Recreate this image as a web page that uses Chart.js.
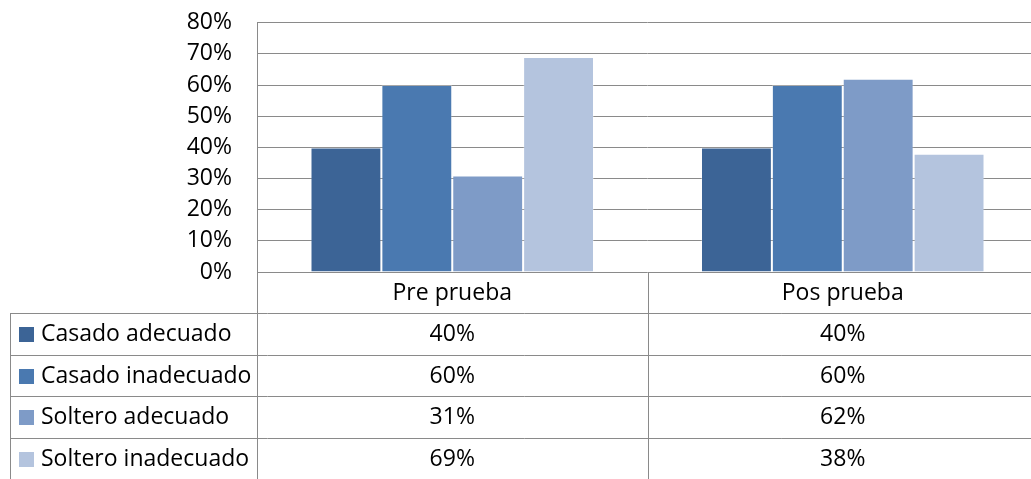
<!DOCTYPE html>
<html>
<head>
<meta charset="utf-8">
<script src="https://cdn.jsdelivr.net/npm/chart.js@4.4.1/dist/chart.umd.min.js"></script>
<style>
html,body{margin:0;padding:0;background:#fff;overflow:hidden;width:1031px;height:479px;position:relative;}
#wrap{position:absolute;left:0;top:-16px;width:1038px;height:495px;}
</style>
</head>
<body>
<div id="wrap"><canvas id="c" width="1038" height="495"></canvas></div>
<script>
const categories = ["Pre prueba", "Pos prueba"];
const seriesNames = ["Casado adecuado", "Casado inadecuado", "Soltero adecuado", "Soltero inadecuado"];
const casadoAdecuado = [40, 40];
const casadoInadecuado = [60, 60];
const solteroAdecuado = [31, 62];
const solteroInadecuado = [69, 38];
const seriesColors = ["#3C6496", "#4A79B0", "#7E9BC7", "#B4C4DE"];
const yTicks = [0, 10, 20, 30, 40, 50, 60, 70, 80];

const seriesValues = [casadoAdecuado, casadoInadecuado, solteroAdecuado, solteroInadecuado];
const FONT = "'Open Sans'";
const FS = 23;
const GRID = "#8a8a8a";

const tablePlugin = {
  id: "dataTable",
  afterDraw(chart) {
    const ctx = chart.ctx;
    const area = chart.chartArea;
    const xs = chart.scales.x;
    const rowH = 41.5;
    const top = area.bottom;
    const headerBottom = top + 41;
    const tableLeft = 10.5;
    const right = chart.width;
    ctx.save();
    ctx.strokeStyle = GRID;
    ctx.lineWidth = 1;
    ctx.beginPath();
    ctx.moveTo(area.left + 0.5, area.top);
    ctx.lineTo(area.left + 0.5, chart.height);
    ctx.stroke();
    const sep = (xs.getPixelForValue(0) + xs.getPixelForValue(1)) / 2;
    ctx.beginPath();
    ctx.moveTo(Math.round(sep) + 0.5, top);
    ctx.lineTo(Math.round(sep) + 0.5, chart.height);
    ctx.stroke();
    ctx.beginPath();
    ctx.moveTo(tableLeft, headerBottom);
    ctx.lineTo(tableLeft, chart.height);
    ctx.stroke();
    for (let i = 0; i < seriesNames.length; i++) {
      const y = Math.round(headerBottom + i * rowH) + 0.5;
      ctx.beginPath();
      ctx.moveTo(tableLeft, y);
      ctx.lineTo(right, y);
      ctx.stroke();
    }
    ctx.fillStyle = "#000";
    ctx.font = FS + "px " + FONT;
    ctx.textBaseline = "middle";
    ctx.textAlign = "center";
    categories.forEach((c, i) => {
      ctx.fillText(c, xs.getPixelForValue(i), (top + headerBottom) / 2 + 1);
    });
    seriesNames.forEach((name, r) => {
      const yc = headerBottom + r * rowH + rowH / 2 + 1;
      ctx.fillStyle = seriesColors[r];
      ctx.fillRect(19, Math.round(yc - 7.5), 15, 15);
      ctx.fillStyle = "#000";
      ctx.textAlign = "left";
      ctx.fillText(name, 41, yc);
      ctx.textAlign = "center";
      seriesValues[r].forEach((v, i) => {
        ctx.fillText(v + "%", xs.getPixelForValue(i), yc);
      });
    });
    ctx.restore();
  }
};

new Chart(document.getElementById("c"), {
  type: "bar",
  data: {
    labels: categories,
    datasets: seriesNames.map((n, i) => ({
      label: n,
      data: seriesValues[i],
      backgroundColor: seriesColors[i],
      borderColor: "rgba(255,255,255,0.25)",
      borderWidth: 1,
      barPercentage: 1.0,
      categoryPercentage: 0.726
    }))
  },
  options: {
    responsive: false,
    animation: false,
    layout: { padding: { top: 5, bottom: 207, left: 0, right: 0 } },
    plugins: { legend: { display: false }, tooltip: { enabled: false } },
    scales: {
      x: { display: false },
      y: {
        min: 0, max: 80,
        afterBuildTicks: (s) => { s.ticks = yTicks.map(v => ({ value: v })); },
        afterFit: (s) => { s.width = 257; },
        grid: { color: GRID, lineWidth: 1, drawTicks: false },
        border: { display: false },
        ticks: {
          padding: 25,
          color: "#000",
          font: { family: "Open Sans", size: FS },
          callback: (v) => v + "%"
        }
      }
    }
  },
  plugins: [tablePlugin]
});
</script>
</body>
</html>
